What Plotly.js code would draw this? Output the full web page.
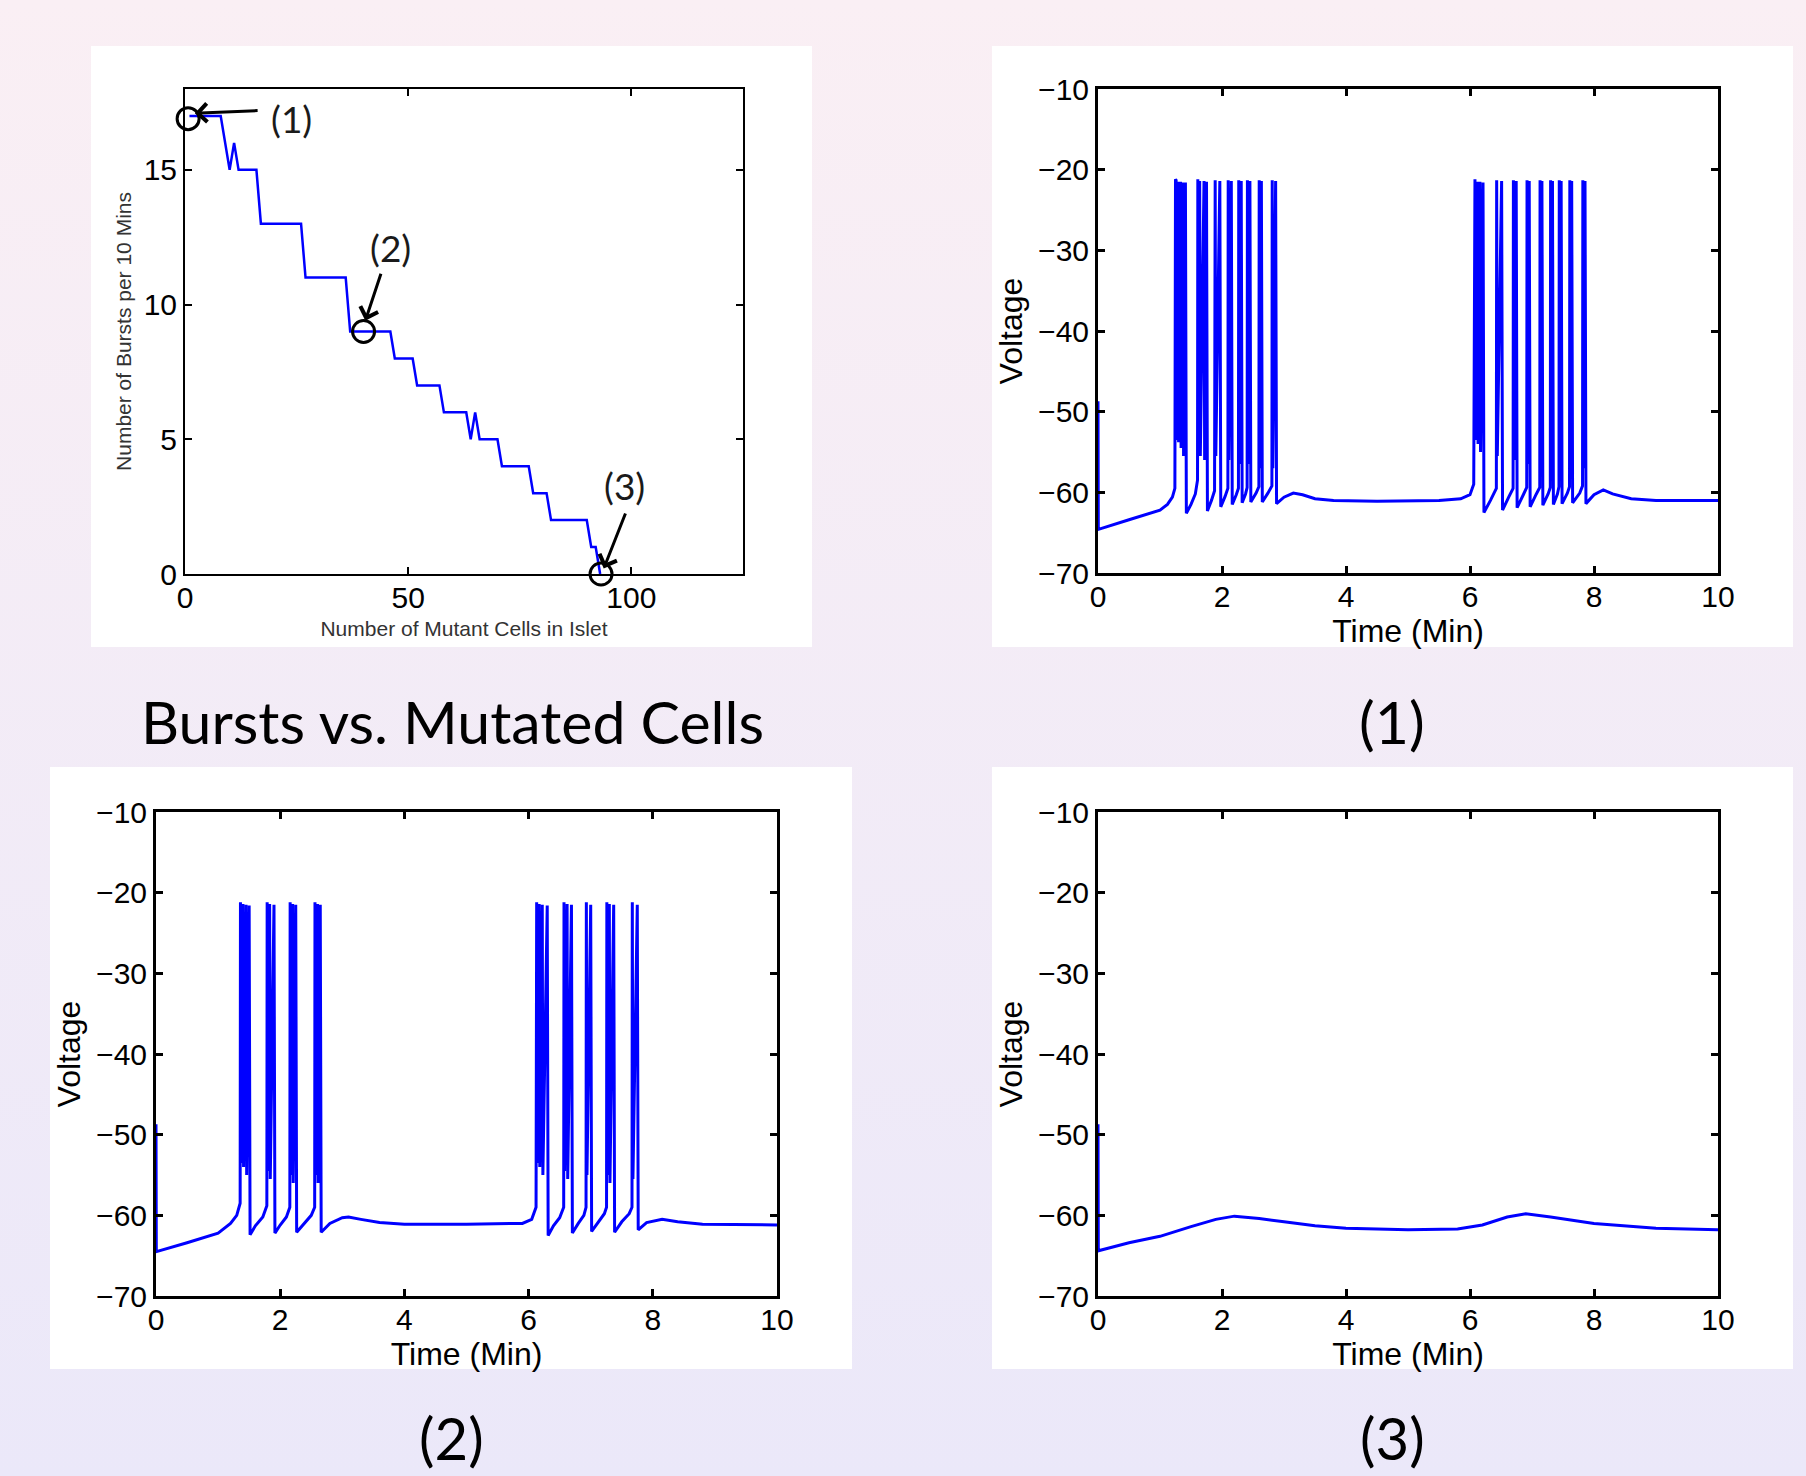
<!DOCTYPE html>
<html><head><meta charset="utf-8">
<script src="https://cdn.plot.ly/plotly-3.0.1.min.js"></script>
<style>
html,body{margin:0;padding:0;width:1806px;height:1476px;overflow:hidden;background:linear-gradient(to bottom,#faeff4 0%,#ebe8f9 100%)}
#chart{width:1806px;height:1476px}
</style></head><body><div id="chart"></div>
<script>
// ---------- Data: bursts vs mutated cells ----------
const mutantCells = [1, 8, 10, 11, 12, 16, 17, 26, 27, 36, 37, 46, 47, 51, 52, 57, 58, 63, 64, 65, 66, 70, 71, 77, 78, 81, 82, 90, 91, 92, 93];
const burstsPer10Min = [17, 17, 15, 16, 15, 15, 13, 13, 11, 11, 9, 9, 8, 8, 7, 7, 6, 6, 5, 6, 5, 5, 4, 4, 3, 3, 2, 2, 1, 1, 0];
const markedCells = [0.7, 40, 93.2];
const markedBursts = [16.9, 9.0, 0];
const markLabels = ['(1)', '(2)', '(3)'];

// ---------- Data: voltage traces ----------
const timeA = [0,0.005,0.5,1.0,1.12,1.2,1.24,
 1.25,1.26,1.27,1.29,1.30,1.33,1.34,1.37,1.38,1.41,1.425,
 1.5,1.57,1.605,
 1.61,1.62,1.64,1.65,1.71,1.72,1.75,1.765,
 1.83,1.88,
 1.89,1.90,1.965,1.98,
 2.05,2.095,
 2.10,2.11,2.15,2.165,
 2.23,2.265,
 2.27,2.28,2.31,2.325,
 2.38,2.405,
 2.41,2.42,2.45,2.465,
 2.55,2.595,
 2.60,2.61,2.635,2.65,
 2.74,2.805,
 2.81,2.82,2.865,2.88,
 3.0,3.15,3.3,3.5,3.8,4.5,5.5,5.85,6.0,6.06,
 6.08,6.09,6.12,6.13,6.16,6.17,6.21,6.225,
 6.33,6.425,
 6.43,6.44,6.51,6.525,
 6.63,6.695,
 6.70,6.71,6.745,6.76,
 6.86,6.915,
 6.92,6.93,6.955,6.97,
 7.07,7.125,
 7.13,7.14,7.16,7.175,
 7.26,7.295,
 7.30,7.31,7.33,7.345,
 7.41,7.435,
 7.44,7.45,7.47,7.485,
 7.57,7.605,
 7.61,7.62,7.64,7.655,
 7.77,7.815,
 7.82,7.83,7.855,7.87,
 8.0,8.15,8.3,8.6,9.0,10];
const voltA = [-48.7,-64.6,-63.4,-62.2,-61.5,-60.6,-59.5,
 -21.2,-21.3,-53.5,-21.5,-53.8,-21.5,-54.5,-21.6,-55.5,-21.6,-62.6,
 -61.5,-60.2,-58.5,
 -21.2,-54.5,-21.4,-55.5,-21.4,-56,-21.5,-62.3,
 -61.0,-59.8,
 -21.3,-55.5,-21.4,-61.8,
 -60.5,-59.5,
 -21.3,-56,-21.4,-61.5,
 -60.3,-59.5,
 -21.3,-56.5,-21.4,-61.3,
 -60.2,-59.4,
 -21.3,-56.5,-21.4,-61.2,
 -60.1,-59.3,
 -21.3,-57,-21.4,-61.2,
 -60.1,-59.2,
 -21.3,-57,-21.4,-61.4,
 -60.6,-60.1,-60.3,-60.8,-61.0,-61.1,-61.0,-60.8,-60.3,-59.0,
 -21.2,-53.5,-21.5,-54,-21.5,-55,-21.6,-62.5,
 -61.0,-59.5,
 -21.3,-55.5,-21.4,-62.2,
 -60.5,-59.5,
 -21.3,-56,-21.4,-61.9,
 -60.3,-59.4,
 -21.3,-56.5,-21.4,-61.8,
 -60.2,-59.4,
 -21.3,-57,-21.4,-61.6,
 -60.2,-59.4,
 -21.3,-57,-21.4,-61.5,
 -60.2,-59.3,
 -21.3,-57,-21.4,-61.4,
 -60.1,-59.3,
 -21.3,-57,-21.4,-61.3,
 -60.1,-59.2,
 -21.3,-57,-21.4,-61.4,
 -60.3,-59.7,-60.2,-60.8,-61.0,-61.0];

const timeB = [0,0.005,0.5,1.0,1.2,1.3,1.355,
 1.36,1.37,1.40,1.41,1.45,1.46,1.50,1.515,
 1.6,1.72,1.785,
 1.79,1.80,1.83,1.84,1.90,1.915,
 2.0,2.1,2.155,
 2.16,2.17,2.20,2.21,2.25,2.265,
 2.38,2.5,2.555,
 2.56,2.57,2.60,2.61,2.645,2.66,
 2.8,3.0,3.1,3.3,3.6,4.0,5.0,5.9,6.05,6.12,
 6.13,6.14,6.17,6.18,6.22,6.23,6.30,6.315,
 6.4,6.5,6.565,
 6.57,6.58,6.62,6.63,6.69,6.705,
 6.8,6.89,6.925,
 6.93,6.94,7.0,7.015,
 7.12,7.22,7.255,
 7.26,7.27,7.30,7.31,7.37,7.385,
 7.5,7.62,7.665,
 7.67,7.68,7.75,7.765,
 7.9,8.15,8.4,8.8,10];
const voltB = [-48.7,-64.5,-63.4,-62.2,-61.0,-60.0,-58.5,
 -21.2,-53.5,-21.4,-54,-21.5,-55,-21.6,-62.4,
 -61.3,-60.2,-58.8,
 -21.2,-54.5,-21.4,-55.5,-21.5,-62.2,
 -61.2,-60.2,-59,
 -21.2,-55,-21.4,-56,-21.5,-62.1,
 -61.0,-60.0,-59,
 -21.2,-55,-21.4,-56,-21.5,-62.1,
 -61.0,-60.3,-60.2,-60.5,-60.9,-61.1,-61.1,-61.0,-60.5,-59.0,
 -21.2,-53.5,-21.4,-54,-21.5,-55,-21.6,-62.5,
 -61.3,-60.3,-59,
 -21.2,-54.5,-21.4,-55.5,-21.5,-62.2,
 -61.0,-60.0,-59,
 -21.2,-55,-21.5,-62,
 -60.8,-59.8,-59,
 -21.2,-55,-21.4,-56,-21.5,-62.1,
 -60.8,-59.8,-59,
 -21.2,-55.5,-21.5,-61.8,
 -60.9,-60.5,-60.8,-61.1,-61.2];

const timeC = [0,0.005,0.5,1.0,1.5,1.9,2.2,2.6,3.0,3.5,4.0,5.0,5.8,6.2,6.6,6.9,7.3,8.0,9.0,10];
const voltC = [-48.7,-64.4,-63.4,-62.6,-61.4,-60.5,-60.1,-60.4,-60.8,-61.3,-61.6,-61.8,-61.7,-61.2,-60.2,-59.8,-60.2,-61.0,-61.6,-61.8];

const timeTicks = [0, 2, 4, 6, 8, 10];
const voltTicks = [-70, -60, -50, -40, -30, -20, -10];
const cellTicks = [0, 50, 100];
const burstTicks = [0, 5, 10, 15];

// ---------- Layout helpers (pixel positions) ----------
const W = 1806, H = 1476;
const fx = v => v / W;
const fy = v => 1 - v / H;
const helv = 'Liberation Sans, Arial, Helvetica, sans-serif';
const blue = '#0000ff';

function axisStyle(extra, lw) {
  return Object.assign({
    showline: true, linecolor: 'black', linewidth: lw, mirror: 'ticks',
    ticks: 'inside', ticklen: 7, tickwidth: lw, tickcolor: 'black',
    showgrid: false, zeroline: false, fixedrange: true,
    tickfont: {family: helv, size: 30, color: 'black'}
  }, extra);
}

const traces = [
  {x: mutantCells, y: burstsPer10Min, xaxis: 'x', yaxis: 'y', mode: 'lines',
   line: {color: blue, width: 2.5}, hoverinfo: 'skip'},
  {x: markedCells, y: markedBursts, xaxis: 'x', yaxis: 'y', mode: 'markers', cliponaxis: false,
   marker: {symbol: 'circle-open', size: 22, color: 'black', line: {width: 3}}, hoverinfo: 'skip'},
  {x: timeA, y: voltA, xaxis: 'x2', yaxis: 'y2', mode: 'lines', line: {color: blue, width: 3}, hoverinfo: 'skip'},
  {x: timeB, y: voltB, xaxis: 'x3', yaxis: 'y3', mode: 'lines', line: {color: blue, width: 3}, hoverinfo: 'skip'},
  {x: timeC, y: voltC, xaxis: 'x4', yaxis: 'y4', mode: 'lines', line: {color: blue, width: 3}, hoverinfo: 'skip'}
];

const smallTitle = t => ({text: t, font: {family: helv, size: 21, color: '#333'}});
const voltTitle = t => ({text: t, font: {family: helv, size: 32, color: 'black'}});

const xTime = (dom, anchor) => axisStyle({domain: dom, range: [0, 10], tickvals: timeTicks, anchor: anchor,
  ticklabelstandoff: -5, title: Object.assign(voltTitle('Time (Min)'), {standoff: 3})}, 3);
const yVolt = (dom, anchor) => axisStyle({domain: dom, range: [-70, -10], tickvals: voltTicks, anchor: anchor,
  title: Object.assign(voltTitle('Voltage'), {standoff: 6})}, 3);

const layout = {
  width: W, height: H, showlegend: false,
  margin: {l: 0, r: 0, t: 0, b: 0},
  paper_bgcolor: 'rgba(0,0,0,0)', plot_bgcolor: 'white',
  xaxis: axisStyle({domain: [fx(185), fx(743)], range: [0, 125], tickvals: cellTicks, anchor: 'y',
    ticklabelstandoff: -4, title: Object.assign(smallTitle('Number of Mutant Cells in Islet'), {standoff: 8})}, 2),
  yaxis: axisStyle({domain: [fy(574), fy(89)], range: [0, 18], tickvals: burstTicks, anchor: 'x',
    title: Object.assign(smallTitle('Number of Bursts per 10 Mins'), {standoff: 6})}, 2),
  xaxis2: xTime([fx(1098), fx(1718)], 'y2'),
  yaxis2: yVolt([fy(573), fy(89)], 'x2'),
  xaxis3: xTime([fx(156), fx(777)], 'y3'),
  yaxis3: yVolt([fy(1296), fy(812)], 'x3'),
  xaxis4: xTime([fx(1098), fx(1718)], 'y4'),
  yaxis4: yVolt([fy(1296), fy(812)], 'x4'),
  shapes: [
    [91, 46, 812, 647], [992, 46, 1793, 647], [50, 767, 852, 1369], [992, 767, 1793, 1369]
  ].map(b => ({type: 'rect', xref: 'paper', yref: 'paper', layer: 'below',
    x0: fx(b[0]), x1: fx(b[2]), y0: fy(b[3]), y1: fy(b[1]),
    fillcolor: 'white', line: {width: 0}})),
  annotations: [
    // panel captions
    {text: 'Bursts vs. Mutated Cells', xref: 'paper', yref: 'paper', x: fx(453), y: fy(722), showarrow: false,
     xanchor: 'center', yanchor: 'middle', font: {family: 'Lato, sans-serif', size: 59, color: 'black'}},
    {text: '(1)', xref: 'paper', yref: 'paper', x: fx(1392), y: fy(722), showarrow: false,
     xanchor: 'center', yanchor: 'middle', font: {family: 'Lato, sans-serif', size: 59, color: 'black'}},
    {text: '(2)', xref: 'paper', yref: 'paper', x: fx(451), y: fy(1437), showarrow: false,
     xanchor: 'center', yanchor: 'middle', font: {family: 'Lato, sans-serif', size: 58, color: 'black'}},
    {text: '(3)', xref: 'paper', yref: 'paper', x: fx(1392), y: fy(1437), showarrow: false,
     xanchor: 'center', yanchor: 'middle', font: {family: 'Lato, sans-serif', size: 58, color: 'black'}},
    // in-plot labels
    {text: markLabels[0], xref: 'x', yref: 'y', x: 23.8, y: 16.9, showarrow: false,
     font: {family: 'Lato, sans-serif', size: 37, color: '#1a1a1a'}},
    {text: markLabels[1], xref: 'x', yref: 'y', x: 46.1, y: 12.1, showarrow: false,
     font: {family: 'Lato, sans-serif', size: 37, color: '#1a1a1a'}},
    {text: markLabels[2], xref: 'x', yref: 'y', x: 98.5, y: 3.3, showarrow: false,
     font: {family: 'Lato, sans-serif', size: 37, color: '#1a1a1a'}},
    // arrows
    {text: '', xref: 'x', yref: 'y', axref: 'x', ayref: 'y', x: 2.2, y: 17.1, ax: 16.6, ay: 17.2,
     showarrow: true, arrowhead: 4, arrowsize: 1.2, arrowwidth: 3, arrowcolor: 'black'},
    {text: '', xref: 'x', yref: 'y', axref: 'x', ayref: 'y', x: 40.4, y: 9.4, ax: 44.0, ay: 11.2,
     showarrow: true, arrowhead: 4, arrowsize: 1.2, arrowwidth: 3, arrowcolor: 'black'},
    {text: '', xref: 'x', yref: 'y', axref: 'x', ayref: 'y', x: 93.8, y: 0.2, ax: 98.8, ay: 2.3,
     showarrow: true, arrowhead: 4, arrowsize: 1.2, arrowwidth: 3, arrowcolor: 'black'}
  ]
};

Plotly.newPlot('chart', traces, layout, {displayModeBar: false, staticPlot: true});
</script>
</body></html>
